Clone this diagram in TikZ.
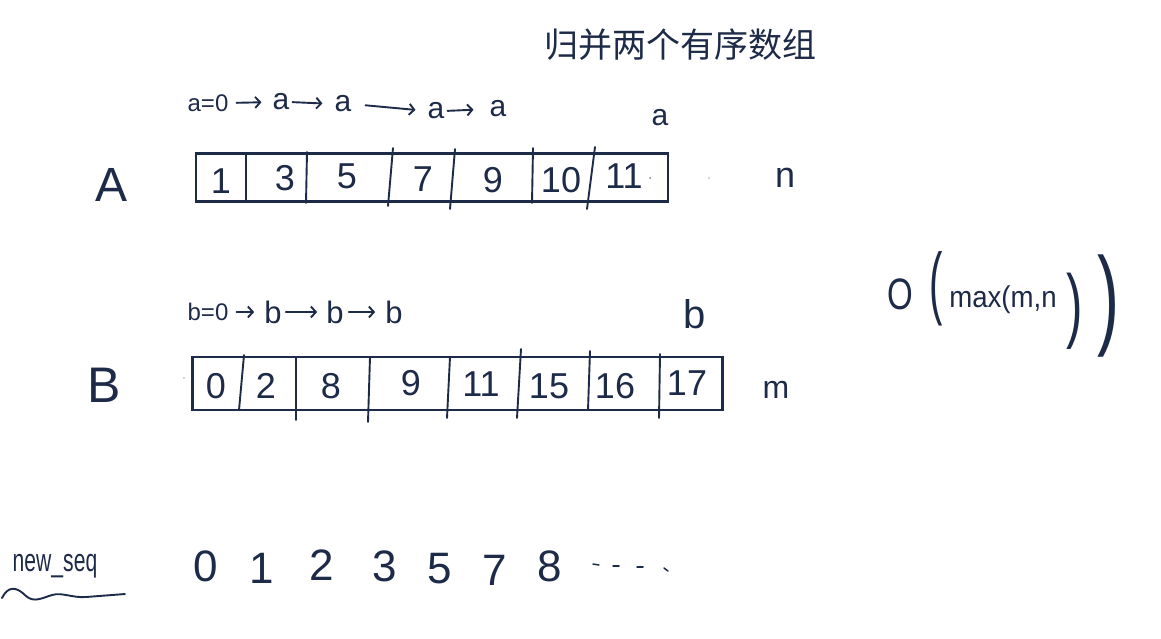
\documentclass[tikz,border=0pt]{standalone}
\usepackage{fontspec}
\setmainfont{Liberation Sans}
\newfontfamily\cjk{Noto Sans CJK SC}
\usetikzlibrary{arrows.meta}
\definecolor{ink}{HTML}{1E2B48}
\newcommand{\fsz}[1]{\fontsize{#1}{#1}\selectfont}
\begin{document}
\begin{tikzpicture}[x=1pt,y=-1pt,
  every node/.style={text=ink, inner sep=0pt},
  stroke/.style={draw=ink, line width=1.9pt, line cap=round, line join=round},
  ptr/.style={stroke, -{Straight Barb[length=5pt,width=11pt]}},
  arr/.style={draw=ink, line width=2.3pt, rectangle},
  val/.style={font=\fsz{36}},
  seqd/.style={font=\fsz{44}},
  lab/.style={font=\fsz{#1}}
]
\useasboundingbox[fill=white] (0,0) rectangle (1161,638);

% title
\node[font=\cjk\fsz{34}] (title) at (680,45) {归并两个有序数组};

% pointer row A
\node[lab=24] (a0) at (208,103) {a=0};
\node[lab=30] (a1) at (281,102) {a};
\node[lab=30] (a2) at (343,104) {a};
\node[lab=30] (a3) at (436,111) {a};
\node[lab=30] (a4) at (498,109) {a};
\draw[ptr, shorten <=8pt, shorten >=11pt] (a0.east) -- (a1.west);
\draw[ptr, shorten <=3pt, shorten >=12pt] (a1.east) -- (a2.west);
\draw[ptr, shorten <=14pt, shorten >=12pt] (a2.east) -- (a3.west);
\draw[ptr, shorten <=3pt, shorten >=16pt] (a3.east) -- (a4.west);
\node[lab=30] (aend) at (660,118) {a};

% array A
\node[lab=48] (labA) at (112,185) {A};
\node[arr, minimum width=472pt, minimum height=48pt] (arrA) at (432,177.5) {};
\draw[stroke] (246,153) -- (246,202);
\draw[stroke] (307,152) -- (306,203);
\draw[stroke] (393,148) -- (388,206);
\draw[stroke] (455,149) -- (450,209);
\draw[stroke] (533,148) -- (532,203);
\draw[stroke] (595,147) -- (587,209);
\node[val] (A1) at (221,181) {1};
\node[val] (A3) at (285,178) {3};
\node[val] (A5) at (347,176) {5};
\node[val] (A7) at (423,179) {7};
\node[val] (A9) at (493,180) {9};
\node[val] (A10) at (561,180) {10};
\node[val] (A11) at (624,176) {11};
\fill[ink!60] (650,178) circle (1pt);
\fill[ink!40] (709,178) circle (0.9pt);
\node[lab=36] (labn) at (785,178) {n};

% pointer row B
\node[lab=24] (b0) at (208,312) {b=0};
\node[lab=31] (b1) at (273,312) {b};
\node[lab=31] (b2) at (335,312) {b};
\node[lab=31] (b3) at (394,312) {b};
\draw[ptr, shorten <=8pt, shorten >=10pt] (b0.east) -- (b1.west);
\draw[ptr, shorten <=4pt, shorten >=9pt] (b1.east) -- (b2.west);
\draw[ptr, shorten <=5pt, shorten >=10pt] (b2.east) -- (b3.west);
\node[lab=40] (bend) at (695,314) {b};

% array B
\node[lab=50] (labB) at (104,385) {B};
\node[arr, minimum width=530pt, minimum height=53pt] (arrB) at (457.5,383.5) {};
\draw[stroke] (244,355) -- (239,410);
\draw[stroke] (296,357) -- (296,420);
\draw[stroke] (370,357) -- (368,422);
\draw[stroke] (450,357) -- (447,418);
\draw[stroke] (521,349) -- (517,418);
\draw[stroke] (590,351) -- (588,410);
\draw[stroke] (660,354) -- (659,418);
\node[val] (B0) at (216,386) {0};
\node[val] (B2) at (266,386) {2};
\node[val] (B8) at (331,386) {8};
\node[val] (B9) at (411,383) {9};
\node[val] (B11) at (481,384) {11};
\node[val] (B15) at (549,386) {15};
\node[val] (B16) at (615,386) {16};
\node[val] (B17) at (687,383) {17};
\fill[ink!40] (184,378) circle (0.9pt);
\node[lab=32] (labm) at (776,390) {m};

% complexity
\node[lab=44] (bigO) at (900,294) {\scalebox{0.75}[1]{O}};
\node[lab=80] (lp1) at (936,289) {\scalebox{0.5}[1]{(}};
\node[lab=30] (mx) at (1003,300) {\scalebox{0.92}[1]{max(m,n}};
\node[lab=82] (rp1) at (1075,311) {\scalebox{0.6}[1]{)}};
\node[lab=110] (rp2) at (1108,306) {\scalebox{0.6}[1]{)}};

% new sequence
\node[lab=32] (newseq) at (55,566) {\scalebox{0.66}[1]{new\_seq}};
\draw[stroke, line width=1.9pt] (2,598) .. controls (8,586) and (16,586) .. (26,596)
  .. controls (34,603) and (42,598) .. (52,595) .. controls (62,592) and (72,598) .. (86,597)
  -- (125,594);
\node[seqd] (s0) at (206,566) {0};
\node[seqd] (s1) at (262,568) {1};
\node[seqd] (s2) at (322,565) {2};
\node[seqd] (s3) at (385,566) {3};
\node[seqd] (s5) at (440,569) {5};
\node[seqd] (s7) at (495,570) {7};
\node[seqd] (s8) at (550,566) {8};
\draw[stroke, line width=1.5pt] (593,564) -- (599,565);
\draw[stroke, line width=1.5pt] (613,566) -- (619,566);
\draw[stroke, line width=1.5pt] (637,567) -- (643,567);
\draw[stroke, line width=1.5pt] (664,568) -- (668,571);
\end{tikzpicture}
\end{document}
